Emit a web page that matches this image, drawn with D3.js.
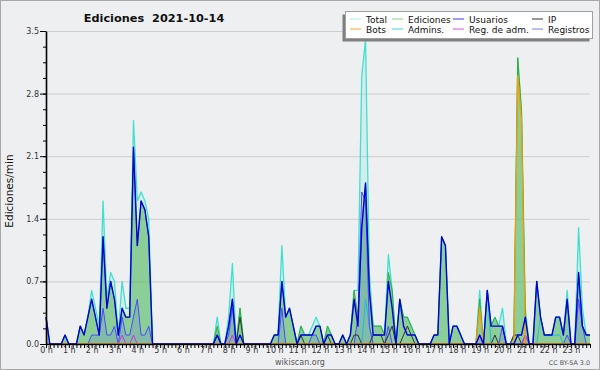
<!DOCTYPE html>
<html>
<head>
<meta charset="utf-8">
<script src="https://cdn.jsdelivr.net/npm/d3@7/dist/d3.min.js"></script>
<style>
  body { margin: 0; background: #eeeff1; }
  svg text { font-family: "DejaVu Sans", sans-serif; }
</style>
</head>
<body>
<svg class="chart" width="600" height="370"></svg>
<script>
// one value per 10 minutes (6 per hour, 144 in the day), edits per minute
const hourLabels = d3.range(24).map(h => h + " h");
const yTicks = [0, 0.7, 1.4, 2.1, 2.8, 3.5];

const total = [
  0.3,0,0,0,0,0.1,  0,0,0,0.2,0.1,0.3,  0.6,0.4,0.2,1.6,0.5,0.8,  0.7,0.1,0.7,0.4,0.4,2.5,
  1.6,1.7,1.6,1.4,0,0,  0,0,0,0,0,0,  0,0,0,0,0,0,  0,0,0,0.3,0,0,
  0.3,0.9,0,0.4,0,0,  0,0,0,0,0,0,  0.1,0.1,1.1,0.3,0.4,0.2,  0,0.2,0.1,0.1,0.2,0.3,
  0.2,0,0.2,0.1,0,0,  0.1,0,0.1,0.6,0.6,3.0,  3.4,0.8,0.2,0.2,0.2,0.1,  1.0,0.6,0,0.5,0.3,0.3,
  0.2,0.1,0,0,0,0,  0.1,0.1,1.2,1.1,0,0.2,  0.2,0.1,0,0,0,0,  0.6,0,0.6,0.2,0.3,0.2,
  0.4,0,0,0.1,3.2,2.6,  0.4,0,0,0.7,0.3,0.1,  0.1,0.1,0.3,0.3,0.1,0.6,  0,0,1.3,0.4,0.1,0.1
];
const edits = [
  0.3,0,0,0,0,0.1,  0,0,0,0.2,0.1,0.3,  0.5,0.3,0.1,1.2,0.4,0.7,  0.5,0.1,0.4,0.3,0.3,2.2,
  1.1,1.6,1.5,1.2,0,0,  0,0,0,0,0,0,  0,0,0,0,0,0,  0,0,0,0.2,0,0,
  0.2,0.5,0,0.4,0,0,  0,0,0,0,0,0,  0.1,0.1,0.7,0.3,0.4,0.2,  0,0.2,0.1,0.1,0.1,0.2,
  0.2,0,0.2,0.1,0,0,  0.1,0,0.1,0.6,0.3,1.3,  1.8,0.6,0.2,0.2,0.2,0.1,  0.8,0.6,0,0.5,0.3,0.3,
  0.2,0.1,0,0,0,0,  0.1,0.1,1.2,1.1,0,0.2,  0.2,0.1,0,0,0,0,  0.5,0,0.6,0.2,0.3,0.2,
  0.2,0,0,0.1,3.2,2.6,  0.3,0,0,0.7,0.3,0.1,  0.1,0.1,0.3,0.3,0.1,0.5,  0,0,0.8,0.2,0.1,0.1
];
const users = [
  0.3,0,0,0,0,0.1,  0,0,0,0.2,0.1,0.3,  0.5,0.3,0.1,1.2,0.4,0.7,  0.5,0.1,0.4,0.3,0.3,2.2,
  1.1,1.6,1.5,1.2,0,0,  0,0,0,0,0,0,  0,0,0,0,0,0,  0,0,0,0.1,0,0,
  0.2,0.5,0,0.1,0,0,  0,0,0,0,0,0,  0.1,0.1,0.7,0.3,0.4,0.2,  0,0.1,0.1,0.1,0.1,0.2,
  0.2,0,0.1,0.1,0,0,  0.1,0,0.1,0.5,0.2,1.3,  1.8,0.6,0.1,0.1,0.1,0.1,  0.7,0.4,0,0.5,0.2,0.1,
  0.1,0.1,0,0,0,0,  0.1,0.1,1.2,1.1,0,0.2,  0.2,0.1,0,0,0,0,  0.1,0,0.6,0.2,0.2,0.2,
  0.2,0,0,0,0.1,0.1,  0.3,0,0,0.7,0.3,0.1,  0.1,0.1,0.3,0.3,0.1,0.5,  0,0,0.8,0.2,0.1,0.1
];
const ip = [
  0,0,0,0,0,0,  0,0,0,0,0,0,  0,0,0,0,0,0,  0,0,0,0,0,0,
  0,0,0,0,0,0,  0,0,0,0,0,0,  0,0,0,0,0,0,  0,0,0,0.1,0,0,
  0,0,0,0.3,0,0,  0,0,0,0,0,0,  0,0,0,0,0,0,  0,0.1,0,0,0,0,
  0,0,0.1,0,0,0,  0,0,0,0.1,0.1,0,  0,0,0.1,0.1,0.1,0,  0.1,0.2,0,0,0.1,0.2,
  0.1,0,0,0,0,0,  0,0,0,0,0,0,  0,0,0,0,0,0,  0,0,0,0,0.1,0,
  0,0,0,0.1,0.1,0,  0,0,0,0,0,0,  0,0,0,0,0,0,  0,0,0,0,0,0
];
const bots = [
  0,0,0,0,0,0,  0,0,0,0,0,0,  0,0,0,0,0,0,  0,0,0,0,0,0,
  0,0,0,0,0,0,  0,0,0,0,0,0,  0,0,0,0,0,0,  0,0,0,0,0,0,
  0,0,0,0,0,0,  0,0,0,0,0,0,  0,0,0,0,0,0,  0,0,0,0,0,0,
  0,0,0,0,0,0,  0,0,0,0,0,0,  0,0,0,0,0,0,  0,0,0,0,0,0,
  0,0,0,0,0,0,  0,0,0,0,0,0,  0,0,0,0,0,0,  0.4,0,0,0,0,0,
  0,0,0,0,3.0,2.5,  0,0,0,0,0,0,  0,0,0,0,0,0,  0,0,0,0,0,0
];
const admins = [
  0,0,0,0,0,0,  0,0,0,0,0,0,  0,0,0,0,0,0,  0,0,0,0,0,0,
  0,0,0,0,0,0,  0,0,0,0,0,0,  0,0,0,0,0,0,  0,0,0,0,0,0,
  0,0,0,0,0,0,  0,0,0,0,0,0,  0,0,0,0,0,0,  0,0,0,0,0,0,
  0,0,0,0,0,0,  0,0,0,0,0,0,  0.5,0.2,0,0,0,0,  0,0,0,0,0,0,
  0,0,0,0,0,0,  0,0,0,0,0,0,  0,0,0,0,0,0,  0,0,0.6,0,0,0,
  0,0,0,0,0,0,  0,0,0,0,0.3,0.1,  0.1,0.1,0.1,0.1,0,0,  0,0,0,0,0,0
];
const adminLogs = [
  0,0,0,0,0,0,  0,0,0,0,0,0,  0,0,0,0,0,0,  0,0,0.1,0,0,0.1,
  0,0,0,0,0,0,  0,0,0,0,0,0,  0,0,0,0,0,0,  0,0,0,0,0,0,
  0,0.1,0,0,0,0,  0,0,0,0,0,0,  0,0,0,0,0,0,  0,0,0,0,0,0,
  0,0,0,0,0,0,  0,0,0,0,0,0,  0,0,0,0,0,0,  0,0,0,0,0,0,
  0,0,0,0,0,0,  0,0,0,0,0,0,  0,0,0,0,0,0,  0,0,0,0,0,0,
  0,0,0,0,0,0,  0.1,0,0,0,0,0,  0,0,0,0,0,0,  0,0,0,0,0,0
];
const logs = [
  0,0,0,0,0,0,  0,0,0,0,0,0,  0.1,0.1,0.1,0.4,0.1,0.1,  0.2,0,0.3,0.1,0.1,0.3,
  0.5,0.1,0.1,0.2,0,0,  0,0,0,0,0,0,  0,0,0,0,0,0,  0,0,0,0.1,0,0,
  0.1,0.4,0,0,0,0,  0,0,0,0,0,0,  0,0,0.4,0,0,0,  0,0,0,0,0.1,0.1,
  0,0,0,0,0,0,  0,0,0,0,0.3,1.7,  1.6,0.2,0,0,0,0,  0.2,0,0,0,0,0,
  0,0,0,0,0,0,  0,0,0,0,0,0,  0,0,0,0,0,0,  0.1,0,0,0,0,0,
  0.2,0,0,0,0,0,  0.1,0,0,0,0,0,  0,0,0,0,0,0.1,  0,0,0.5,0.2,0,0
];

const svg = d3.select(".chart");

const x = d3.scaleLinear().domain([0, 143]).range([46, 590]);
const y = d3.scaleLinear().domain([0, 3.5]).range([344, 31]);

// frame
svg.append("rect")
  .attr("x", 0.5).attr("y", 0.5).attr("width", 599).attr("height", 369)
  .style("fill", "none").style("stroke", "#a8a8a8");

// grid
svg.selectAll(".grid")
  .data(yTicks.slice(1))
  .enter().append("line")
  .attr("class", "grid")
  .attr("x1", x(0)).attr("x2", x(143))
  .attr("y1", d => y(d) + 0.5).attr("y2", d => y(d) + 0.5)
  .style("stroke", "#cdcdcd");

const area = d3.area().x((d, i) => x(i)).y0(y(0)).y1(d => y(d));
const line = d3.line().x((d, i) => x(i)).y(d => y(d));

svg.append("path").datum(total).attr("d", area)
  .style("fill", "#40e0d0").style("fill-opacity", 0.15);
svg.append("path").datum(edits).attr("d", area)
  .style("fill", "#33aa33").style("fill-opacity", 0.45);
svg.append("path").datum(logs).attr("d", area)
  .style("fill", "#5050ff").style("fill-opacity", 0.15);

const lines = [
  {data: total, color: "#40e0d0", width: 1.3},
  {data: edits, color: "#33aa33", width: 1},
  {data: admins, color: "#22bbdd", width: 1},
  {data: logs, color: "#4a4aff", width: 1},
  {data: ip, color: "#333333", width: 1},
  {data: adminLogs, color: "#cc33dd", width: 1},
  {data: bots, color: "#ff9900", width: 1.3},
  {data: users, color: "#0000dd", width: 1.4}
];

lines.forEach(s => {
  svg.append("path").datum(s.data).attr("d", line)
    .style("fill", "none")
    .style("stroke", s.color)
    .style("stroke-width", s.width)
    .style("stroke-linejoin", "round");
});

// x axis: a tick every 10 minutes, label every hour
const xAxis = svg.append("g")
  .attr("transform", `translate(0,${y(0)})`)
  .call(d3.axisBottom(x)
    .tickValues(d3.range(144))
    .tickSize(4)
    .tickSizeOuter(0)
    .tickPadding(-1)
    .tickFormat(i => i % 6 === 0 ? hourLabels[i / 6] : ""));
xAxis.select(".domain").style("stroke", "#000").style("stroke-width", 1.6);
xAxis.selectAll(".tick line").style("stroke", "#000");
xAxis.selectAll("text")
  .style("font-family", "DejaVu Sans")
  .style("font-size", "8px")
  .style("fill", "#333");

// y axis with minor ticks
svg.append("g")
  .attr("transform", `translate(${x(0)},0)`)
  .call(d3.axisLeft(y).tickValues(d3.range(0, 21).map(k => k * 0.175)).tickSize(3).tickFormat(""))
  .call(g => g.select(".domain").remove())
  .selectAll("line").style("stroke", "#000");

const yAxis = svg.append("g")
  .attr("transform", `translate(${x(0)},0)`)
  .call(d3.axisLeft(y)
    .tickValues(yTicks)
    .tickSize(6)
    .tickSizeOuter(0)
    .tickPadding(1)
    .tickFormat(d3.format(".1f")));
yAxis.select(".domain").style("stroke", "#000").style("stroke-width", 1.6);
yAxis.selectAll(".tick line").style("stroke", "#000");
yAxis.selectAll("text")
  .style("font-family", "DejaVu Sans")
  .style("font-size", "8px")
  .style("fill", "#333");

svg.append("text")
  .attr("transform", "translate(13,191) rotate(-90)")
  .attr("text-anchor", "middle")
  .style("font-size", "10.5px")
  .style("fill", "#111")
  .text("Ediciones/min");

// title (double space kept)
svg.append("text")
  .attr("x", 154).attr("y", 21.5)
  .attr("text-anchor", "middle")
  .style("white-space", "pre")
  .style("font-size", "11.3px")
  .style("font-weight", "bold")
  .style("fill", "#111")
  .text("Ediciones  2021-10-14");

svg.append("text")
  .attr("x", 300).attr("y", 364.5)
  .attr("text-anchor", "middle")
  .style("font-size", "8px")
  .style("fill", "#555")
  .text("wikiscan.org");

svg.append("text")
  .attr("x", 590).attr("y", 365)
  .attr("text-anchor", "end")
  .style("font-size", "6.4px")
  .style("fill", "#555")
  .text("CC BY-SA 3.0");

// legend
const legendNames = ["Total", "Ediciones", "Usuarios", "IP", "Bots", "Admins.", "Reg. de adm.", "Registros"];
const legendColors = ["#a8ece4", "#88d088", "#3a3ae8", "#333333", "#ffa030", "#44d0e0", "#d050e8", "#7878f0"];
const colX = [350, 392, 453, 532];

const legend = svg.append("g");
legend.append("rect")
  .attr("x", 342.5).attr("y", 14.5).attr("width", 247).attr("height", 27)
  .style("fill", "#808080");
legend.append("rect")
  .attr("x", 345.5).attr("y", 11.5).attr("width", 247).attr("height", 27)
  .style("fill", "#fff").style("stroke", "#a0a0a0");

legendNames.forEach((name, k) => {
  const cx = colX[k % 4];
  const cy = k < 4 ? 19 : 29;
  legend.append("line")
    .attr("x1", cx).attr("x2", cx + 11)
    .attr("y1", cy).attr("y2", cy)
    .style("stroke", legendColors[k]);
  legend.append("text")
    .attr("x", cx + 16).attr("y", cy + 3.5)
    .style("font-size", "9px")
    .style("fill", "#111")
    .text(name);
});
</script>
</body>
</html>
